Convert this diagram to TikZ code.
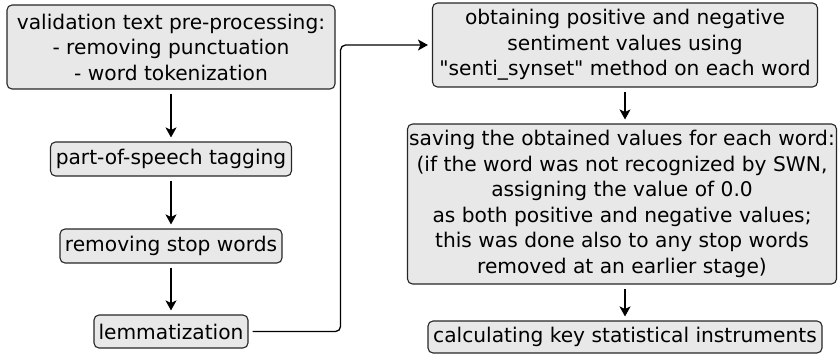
\documentclass[tikz,border=0pt]{standalone}
\usepackage{fontspec}
\setmainfont{DejaVu Sans}
\usepackage{tikz}
\usetikzlibrary{positioning,arrows.meta,calc}
\definecolor{boxFill}{RGB}{232,232,232}

\begin{document}
\begin{tikzpicture}[
  x=1pt, y=-1pt,
  stepBox/.style={draw=black!85, fill=boxFill, rounded corners=5pt,
                  line width=1.1pt, align=center, inner sep=0pt,
                  font=\fontsize{20.2pt}{25.5pt}\selectfont},
  flow/.style={-{Stealth[length=10pt,width=11pt,inset=2.5pt]},
               line width=1.3pt, shorten <=4pt, shorten >=4pt},
]
  \useasboundingbox (0,0) rectangle (838,356);

  % Left column: pre-processing steps
  \node[stepBox, minimum width=328pt, minimum height=84pt] (preproc) at (171,47)
    {validation text pre-processing:\\- removing punctuation\\- word tokenization};
  \node[stepBox, minimum width=241pt, minimum height=34pt] (posTag) at (171,159)
    {part-of-speech tagging};
  \node[stepBox, minimum width=222pt, minimum height=34pt] (stopWords) at (171,246)
    {removing stop words};
  \node[stepBox, minimum width=154pt, minimum height=33pt] (lemma) at (171,331.5)
    {lemmatization};

  % Right column: sentiment values
  \node[stepBox, minimum width=385pt, minimum height=84pt] (senti) at (625,45)
    {obtaining positive and negative\\sentiment values using\\\textquotedbl senti\_synset\textquotedbl{} method on each word};
  \node[stepBox, minimum width=429pt, minimum height=160pt] (saving) at (622,204)
    {saving the obtained values for each word:\\(if the word was not recognized by SWN,\\assigning the value of 0.0\\as both positive and negative values;\\this was done also to any stop words\\removed at an earlier stage)};
  \node[stepBox, minimum width=394pt, minimum height=32pt] (stats) at (625,337)
    {calculating key statistical instruments};

  % Arrows
  \draw[flow] (preproc) -- (posTag);
  \draw[flow] (posTag) -- (stopWords);
  \draw[flow] (stopWords) -- (lemma);
  \draw[flow, rounded corners=5pt] (lemma.east) -- ++(92,0) |- (senti.west);
  \draw[flow] (senti.south) -- (senti.south |- saving.north);
  \draw[flow] (saving.south -| stats) -- (stats.north);
\end{tikzpicture}
\end{document}
